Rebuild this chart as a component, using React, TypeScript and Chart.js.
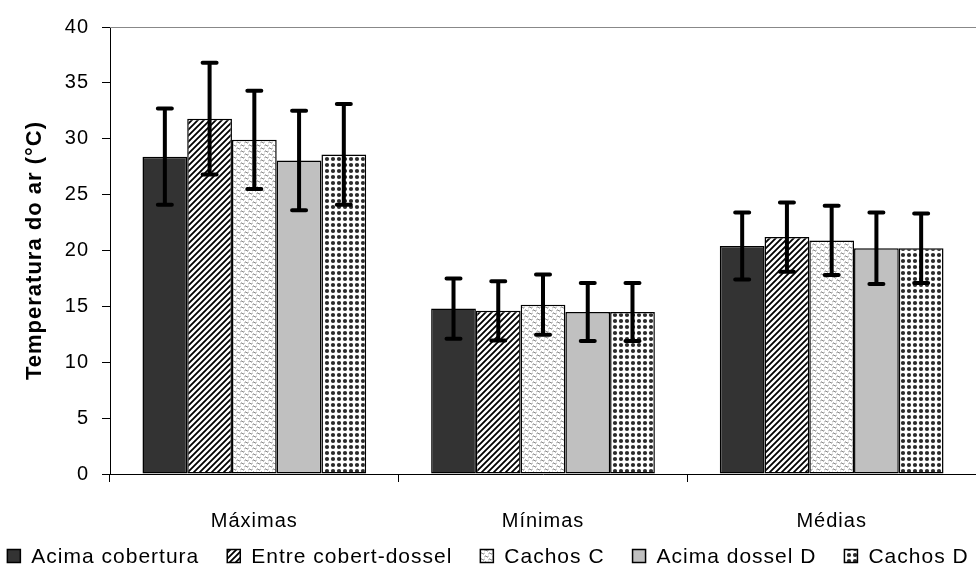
import { useEffect, useRef } from 'react';
import { Chart, registerables } from 'chart.js';

Chart.register(...registerables);

// Air temperature by sensor position: maxima, minima and means (°C), with ± deviations
const categories = ['Máximas', 'Mínimas', 'Médias'];
const seriesNames = ['Acima cobertura', 'Entre cobert-dossel', 'Cachos C', 'Acima dossel D', 'Cachos D'];

const acimaCobertura = [28.4, 14.8, 20.4];
const entreCobertDossel = [31.8, 14.6, 21.2];
const cachosC = [29.9, 15.15, 20.9];
const acimaDosselD = [28.05, 14.5, 20.2];
const cachosD = [28.6, 14.5, 20.2];

const errAcimaCobertura = [4.3, 2.7, 3.0];
const errEntreCobertDossel = [5.0, 2.65, 3.1];
const errCachosC = [4.4, 2.7, 3.1];
const errAcimaDosselD = [4.45, 2.6, 3.2];
const errCachosD = [4.5, 2.6, 3.1];

const yMin = 0;
const yMax = 40;
const yStep = 5;
const yTitle = 'Temperatura do ar (°C)';

const FONT = "'Liberation Sans', Arial, sans-serif";
const AXIS_SIZE = 20;
const LEGEND_SIZE = 21;
const TITLE_SIZE = 22;
const SPACING = '1px';

function tile(w: number, h: number, paint: (c: CanvasRenderingContext2D) => void): CanvasPattern {
  const cv = document.createElement('canvas');
  cv.width = w;
  cv.height = h;
  const c = cv.getContext('2d')!;
  c.fillStyle = '#fff';
  c.fillRect(0, 0, w, h);
  paint(c);
  const ref = document.createElement('canvas').getContext('2d')!;
  return ref.createPattern(cv, 'repeat')!;
}

function hatchPattern() {
  return tile(6, 6, (c) => {
    c.strokeStyle = '#000';
    c.lineWidth = 1.8;
    c.beginPath();
    c.moveTo(-1, 7);
    c.lineTo(7, -1);
    c.moveTo(-4, 4);
    c.lineTo(4, -4);
    c.moveTo(2, 10);
    c.lineTo(10, 2);
    c.stroke();
  });
}

function squigglePattern() {
  return tile(8, 6, (c) => {
    c.strokeStyle = '#555';
    c.lineWidth = 0.9;
    c.beginPath();
    c.moveTo(0.5, 1.8);
    c.quadraticCurveTo(1.5, 0.4, 2.5, 1.5);
    c.quadraticCurveTo(3.5, 2.6, 4.5, 1.2);
    c.moveTo(4.5, 4.8);
    c.quadraticCurveTo(5.5, 3.4, 6.5, 4.5);
    c.quadraticCurveTo(7.5, 5.6, 8.5, 4.2);
    c.moveTo(-3.5, 4.8);
    c.quadraticCurveTo(-2.5, 3.4, -1.5, 4.5);
    c.quadraticCurveTo(-0.5, 5.6, 0.5, 4.2);
    c.stroke();
  });
}

function dotPattern() {
  return tile(6, 6, (c) => {
    c.fillStyle = '#2a2a2a';
    c.beginPath();
    c.arc(3, 3, 2.1, 0, Math.PI * 2);
    c.fill();
  });
}

const errorSets = [errAcimaCobertura, errEntreCobertDossel, errCachosC, errAcimaDosselD, errCachosD];

// Wider glyph spacing on every text drawn by the chart
const spacingPlugin = {
  id: 'textSpacing',
  beforeUpdate(chart: any) {
    chart.ctx.letterSpacing = SPACING;
  },
  beforeDraw(chart: any) {
    chart.ctx.letterSpacing = SPACING;
  },
};

const errorBarPlugin = {
  id: 'errorBars',
  afterDatasetsDraw(chart: any) {
    const { ctx } = chart;
    const y = chart.scales.y;
    chart.data.datasets.forEach((ds: any, i: number) => {
      const meta = chart.getDatasetMeta(i);
      const errs = errorSets[i];
      meta.data.forEach((bar: any, j: number) => {
        const v = ds.data[j] as number;
        const e = errs[j];
        const top = y.getPixelForValue(v + e);
        const bot = y.getPixelForValue(v - e);
        ctx.save();
        ctx.strokeStyle = '#000';
        ctx.lineWidth = 4;
        ctx.lineCap = 'round';
        ctx.beginPath();
        ctx.moveTo(bar.x, top);
        ctx.lineTo(bar.x, bot);
        ctx.moveTo(bar.x - 7, top);
        ctx.lineTo(bar.x + 7, top);
        ctx.moveTo(bar.x - 7, bot);
        ctx.lineTo(bar.x + 7, bot);
        ctx.stroke();
        ctx.restore();
      });
    });
  },
};

const frameTopPlugin = {
  id: 'frameTop',
  beforeDatasetsDraw(chart: any) {
    const { ctx, chartArea } = chart;
    ctx.save();
    ctx.strokeStyle = '#888';
    ctx.lineWidth = 1;
    ctx.beginPath();
    ctx.moveTo(chartArea.left, chartArea.top + 0.5);
    ctx.lineTo(chartArea.right, chartArea.top + 0.5);
    ctx.stroke();
    ctx.restore();
  },
};

// Single-row legend along the bottom edge
const legendPlugin = {
  id: 'bottomLegend',
  afterDraw(chart: any) {
    const { ctx } = chart;
    const box = 13;
    const gap = 11;
    const itemGap = 28;
    ctx.save();
    ctx.letterSpacing = SPACING;
    ctx.font = `${LEGEND_SIZE}px ${FONT}`;
    const items = chart.data.datasets.map((ds: any) => ({
      label: ds.label as string,
      fill: ds.backgroundColor,
      width: ctx.measureText(ds.label).width,
    }));
    const total =
      items.reduce((a: number, it: any) => a + box + gap + it.width, 0) + itemGap * (items.length - 1);
    let x = (chart.width - total) / 2;
    const yc = chart.height - 12;
    ctx.textBaseline = 'middle';
    ctx.textAlign = 'left';
    items.forEach((it: any) => {
      ctx.fillStyle = it.fill;
      ctx.fillRect(x, yc - box / 2, box, box);
      ctx.strokeStyle = '#000';
      ctx.lineWidth = 1.5;
      ctx.strokeRect(x, yc - box / 2, box, box);
      ctx.fillStyle = '#000';
      ctx.fillText(it.label, x + box + gap, yc + 1);
      x += box + gap + it.width + itemGap;
    });
    ctx.restore();
  },
};

export default function App() {
  const ref = useRef<HTMLCanvasElement>(null);

  useEffect(() => {
    document.body.style.margin = '0';
    const canvas = ref.current!;
    const fills = ['#333333', hatchPattern(), squigglePattern(), '#c0c0c0', dotPattern()];
    const values = [acimaCobertura, entreCobertDossel, cachosC, acimaDosselD, cachosD];

    const chart = new Chart(canvas, {
      type: 'bar',
      data: {
        labels: categories,
        datasets: seriesNames.map((name, i) => ({
          label: name,
          data: values[i],
          backgroundColor: fills[i] as any,
          borderColor: '#000',
          borderWidth: 1.5,
          borderSkipped: false,
          barPercentage: 1,
          categoryPercentage: 0.775,
        })),
      },
      options: {
        animation: false,
        responsive: false,
        devicePixelRatio: 1,
        layout: { padding: { top: 27, left: 0, right: 0, bottom: 34 } },
        plugins: {
          tooltip: { enabled: false },
          legend: { display: false },
        },
        scales: {
          x: {
            type: 'category',
            offset: true,
            grid: { offset: true, drawOnChartArea: false, tickLength: 8, color: '#000' },
            border: { color: '#000', width: 1 },
            ticks: { color: '#000', font: { family: FONT, size: AXIS_SIZE }, padding: 27 },
            afterFit: (s: any) => {
              s.height = 60;
            },
          },
          y: {
            min: yMin,
            max: yMax,
            ticks: { stepSize: yStep, color: '#000', font: { family: FONT, size: AXIS_SIZE }, padding: 13 },
            grid: { drawOnChartArea: false, tickLength: 8, color: '#000' },
            border: { color: '#000', width: 1 },
            title: {
              display: true,
              text: yTitle,
              color: '#000',
              font: { family: FONT, size: TITLE_SIZE, weight: 'bold' },
              padding: { top: 22, bottom: 0 },
            },
            afterFit: (s: any) => {
              s.width = 110;
            },
          },
        },
      },
      plugins: [spacingPlugin, frameTopPlugin, errorBarPlugin, legendPlugin],
    });
    return () => chart.destroy();
  }, []);

  return (
    <div style={{ width: 976, height: 568 }}>
      <canvas ref={ref} width={976} height={568} />
    </div>
  );
}
